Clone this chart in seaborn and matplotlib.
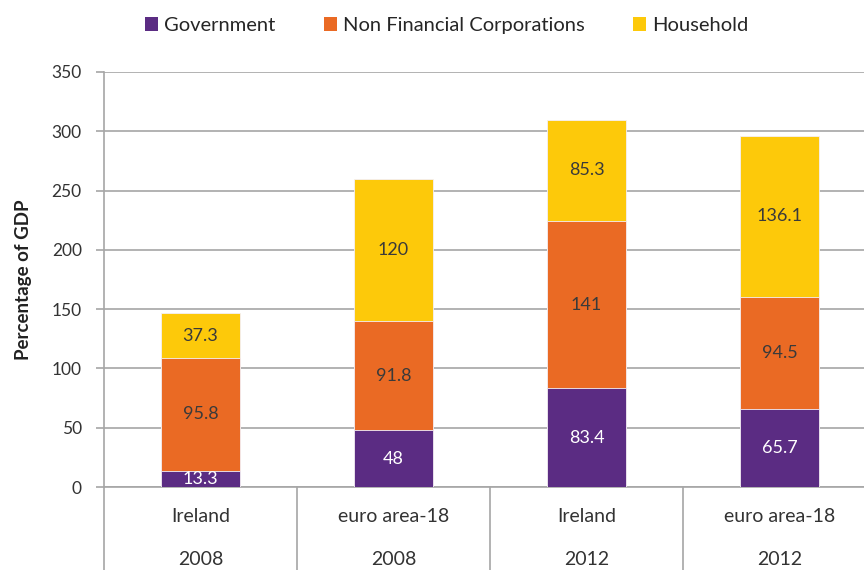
import matplotlib
matplotlib.use('Agg')
import matplotlib.pyplot as plt
import numpy as np
import pandas as pd
import seaborn as sns
from matplotlib.lines import Line2D
from matplotlib.patches import Patch
import matplotlib.transforms as mtransforms

countries = ['Ireland', 'euro area-18', 'Ireland', 'euro area-18']
years = ['2008', '2008', '2012', '2012']
government = [13.3, 48, 83.4, 65.7]
non_financial = [95.8, 91.8, 141, 94.5]
household = [37.3, 120, 85.3, 136.1]

series_names = ['Government', 'Non Financial Corporations', 'Household']
colors = ['#5B2C83', '#EA6A24', '#FDC90A']
text_colors = ['white', '#3a3a3a', '#3a3a3a']

sns.set_style('white')
plt.rcParams['font.family'] = ['Lato', 'DejaVu Sans']

keys = [f'{c}\n{y}#{i}' for i, (c, y) in enumerate(zip(countries, years))]
df = pd.DataFrame({'key': keys, 'Government': government,
                   'Non Financial Corporations': non_financial,
                   'Household': household})
gov = np.array(government)
nfc = gov + np.array(non_financial)
tot = nfc + np.array(household)

fig = plt.figure(figsize=(8.64, 5.70), dpi=100)
ax = fig.add_axes([104 / 864, 83 / 570, 772 / 864, 415 / 570])

# stacked bars: draw cumulative totals from the top layer down
for cum, col in zip([tot, nfc, gov], colors[::-1]):
    sns.barplot(x=df['key'], y=cum, color=col, width=0.405, ax=ax,
                saturation=1, zorder=3, edgecolor='#f4f0f6', linewidth=0.6)

# segment labels
layers = [(np.zeros(4), gov, government), (gov, nfc, non_financial),
          (nfc, tot, household)]
for (lo, hi, vals), tc in zip(layers, text_colors):
    for i, v in enumerate(vals):
        ax.text(i, (lo[i] + hi[i]) / 2, f'{v:g}', ha='center', va='center',
                fontsize=13, color=tc, zorder=5, clip_on=True)

ax.set_ylim(0, 350)
ax.set_xlim(-0.5, 3.5)
ax.set_yticks(range(0, 351, 50))
ax.yaxis.grid(True, color='#A6A6A6', linewidth=1.2, zorder=0)
ax.set_axisbelow(True)
for side in ['top', 'right']:
    ax.spines[side].set_visible(False)
for side in ['left', 'bottom']:
    ax.spines[side].set_color('#A6A6A6')
    ax.spines[side].set_linewidth(1.2)
ax.tick_params(axis='y', length=6, width=1.2, color='#A6A6A6',
               labelsize=12.5, labelcolor='#333333', pad=10, left=True)
ax.tick_params(axis='x', length=0, labelbottom=False)
ax.set_xlabel('')
ax.set_ylabel('Percentage of GDP', fontsize=13.5, fontweight='bold',
              color='#222222', labelpad=14)

# two-level category axis
trans = mtransforms.blended_transform_factory(ax.transData, ax.transAxes)
for i, (c, y) in enumerate(zip(countries, years)):
    ax.text(i, -0.072, c, transform=trans, ha='center', va='center',
            fontsize=14, color='#333333')
    ax.text(i, -0.175, y, transform=trans, ha='center', va='center',
            fontsize=14, color='#333333')
for xs in [-0.5, 0.5, 1.5, 2.5, 3.5]:
    ax.add_line(Line2D([xs, xs], [0, -0.21], transform=trans,
                       color='#A6A6A6', linewidth=1.2, clip_on=False))

handles = [Patch(facecolor=c, edgecolor='none', label=n)
           for n, c in zip(series_names, colors)]
fig.legend(handles=handles, loc='center', bbox_to_anchor=(0.517, 0.955),
           ncol=3, frameon=False, fontsize=14.5, handlelength=0.65,
           handleheight=0.65, handletextpad=0.3, columnspacing=2.4)

fig.savefig('out.png', dpi=100)
